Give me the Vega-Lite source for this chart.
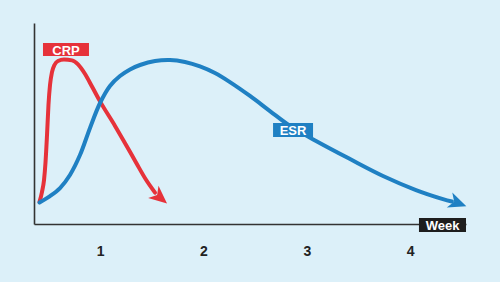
{
  "$schema": "https://vega.github.io/schema/vega-lite/v6.json",
  "autosize": "none",
  "padding": {"left": 34, "top": 23, "right": 34, "bottom": 58},
  "width": 432,
  "height": 201,
  "background": "#dcf0f9",
  "config": {"view": {"stroke": null}, "font": "Liberation Sans"},
  "datasets": {
    "crp": [
      {"series": "CRP", "w": 0.413, "v": 10.9},
      {"series": "CRP", "w": 0.437, "v": 15.9},
      {"series": "CRP", "w": 0.457, "v": 21.9},
      {"series": "CRP", "w": 0.471, "v": 30.4},
      {"series": "CRP", "w": 0.486, "v": 44.3},
      {"series": "CRP", "w": 0.500, "v": 59.2},
      {"series": "CRP", "w": 0.515, "v": 69.2},
      {"series": "CRP", "w": 0.534, "v": 75.6},
      {"series": "CRP", "w": 0.558, "v": 79.1},
      {"series": "CRP", "w": 0.592, "v": 81.1},
      {"series": "CRP", "w": 0.650, "v": 81.8},
      {"series": "CRP", "w": 0.728, "v": 81.4},
      {"series": "CRP", "w": 0.786, "v": 79.4},
      {"series": "CRP", "w": 0.854, "v": 74.6},
      {"series": "CRP", "w": 0.921, "v": 68.4},
      {"series": "CRP", "w": 0.999, "v": 61.0},
      {"series": "CRP", "w": 1.144, "v": 48.8},
      {"series": "CRP", "w": 1.241, "v": 40.2},
      {"series": "CRP", "w": 1.347, "v": 30.6},
      {"series": "CRP", "w": 1.444, "v": 22.0},
      {"series": "CRP", "w": 1.531, "v": 15.6}
    ],
    "esr": [
      {"series": "ESR", "w": 0.413, "v": 10.7},
      {"series": "ESR", "w": 0.515, "v": 13.9},
      {"series": "ESR", "w": 0.612, "v": 17.9},
      {"series": "ESR", "w": 0.708, "v": 24.4},
      {"series": "ESR", "w": 0.805, "v": 34.3},
      {"series": "ESR", "w": 0.902, "v": 47.8},
      {"series": "ESR", "w": 0.999, "v": 60.2},
      {"series": "ESR", "w": 1.095, "v": 68.7},
      {"series": "ESR", "w": 1.192, "v": 73.6},
      {"series": "ESR", "w": 1.289, "v": 76.9},
      {"series": "ESR", "w": 1.386, "v": 79.1},
      {"series": "ESR", "w": 1.531, "v": 81.1},
      {"series": "ESR", "w": 1.676, "v": 81.6},
      {"series": "ESR", "w": 1.821, "v": 80.6},
      {"series": "ESR", "w": 1.966, "v": 78.4},
      {"series": "ESR", "w": 2.111, "v": 75.1},
      {"series": "ESR", "w": 2.256, "v": 70.6},
      {"series": "ESR", "w": 2.450, "v": 63.7},
      {"series": "ESR", "w": 2.643, "v": 56.2},
      {"series": "ESR", "w": 2.837, "v": 48.8},
      {"series": "ESR", "w": 3.089, "v": 41.3},
      {"series": "ESR", "w": 3.418, "v": 32.3},
      {"series": "ESR", "w": 3.737, "v": 23.9},
      {"series": "ESR", "w": 4.056, "v": 16.9},
      {"series": "ESR", "w": 4.317, "v": 12.4},
      {"series": "ESR", "w": 4.404, "v": 11.2}
    ],
    "arrows": [
      {"series": "CRP", "w": 1.581, "v": 13.1, "angle": 40},
      {"series": "ESR", "w": 4.462, "v": 10.4, "angle": 20}
    ],
    "labels": [
      {"series": "CRP", "x1": 0.447, "x2": 0.892, "y1": 90.0, "y2": 83.6, "xc": 0.670, "yc": 86.8},
      {"series": "ESR", "x1": 2.673, "x2": 3.060, "y1": 50.2, "y2": 43.3, "xc": 2.866, "yc": 46.8},
      {"series": "Week", "x1": 4.085, "x2": 4.540, "y1": 3.0, "y2": -4.0, "xc": 4.313, "yc": -0.5}
    ]
  },
  "layer": [
    {
      "data": {"name": "crp"},
      "mark": {"type": "line", "interpolate": "monotone", "strokeWidth": 4, "strokeCap": "round", "strokeJoin": "round"},
      "encoding": {
        "x": {"field": "w", "type": "quantitative", "scale": {"domain": [0.36, 4.54], "nice": false, "zero": false},
          "axis": {"values": [1, 2, 3, 4], "format": "d", "title": null, "grid": false, "ticks": false, "tickSize": 0, "labelPadding": 20,
            "labelFontSize": 14, "labelFontWeight": "bold", "labelColor": "#222222", "domainColor": "#333333", "domainWidth": 1.6, "labelFont": "Liberation Sans"}},
        "y": {"field": "v", "type": "quantitative", "scale": {"domain": [0, 100], "nice": false, "zero": false},
          "axis": {"title": null, "grid": false, "ticks": false, "labels": false, "domainColor": "#333333", "domainWidth": 1.6}},
        "color": {"field": "series", "type": "nominal", "scale": {"domain": ["CRP", "ESR", "Week"], "range": ["#e6323a", "#1f80c3", "#1e1e1e"]}, "legend": null}
      }
    },
    {
      "data": {"name": "esr"},
      "mark": {"type": "line", "interpolate": "catmull-rom", "strokeWidth": 4, "strokeCap": "round", "strokeJoin": "round"},
      "encoding": {
        "x": {"field": "w", "type": "quantitative"},
        "y": {"field": "v", "type": "quantitative"},
        "color": {"field": "series", "type": "nominal", "legend": null}
      }
    },
    {
      "data": {"name": "arrows"},
      "mark": {"type": "point", "shape": "M1,0 L-1,-0.9 L-0.45,0 L-1,0.9 Z", "filled": true, "opacity": 1, "size": 320},
      "encoding": {
        "x": {"field": "w", "type": "quantitative"},
        "y": {"field": "v", "type": "quantitative"},
        "angle": {"field": "angle", "type": "quantitative", "scale": null},
        "color": {"field": "series", "type": "nominal", "legend": null}
      }
    },
    {
      "data": {"name": "labels"},
      "mark": {"type": "rect"},
      "encoding": {
        "x": {"field": "x1", "type": "quantitative"},
        "x2": {"field": "x2"},
        "y": {"field": "y1", "type": "quantitative"},
        "y2": {"field": "y2"},
        "color": {"field": "series", "type": "nominal", "legend": null}
      }
    },
    {
      "data": {"name": "labels"},
      "mark": {"type": "text", "color": "white", "fontWeight": "bold", "fontSize": 13, "font": "Liberation Sans", "align": "center", "baseline": "middle", "dy": 1},
      "encoding": {
        "x": {"field": "xc", "type": "quantitative"},
        "y": {"field": "yc", "type": "quantitative"},
        "text": {"field": "series"}
      }
    }
  ]
}
